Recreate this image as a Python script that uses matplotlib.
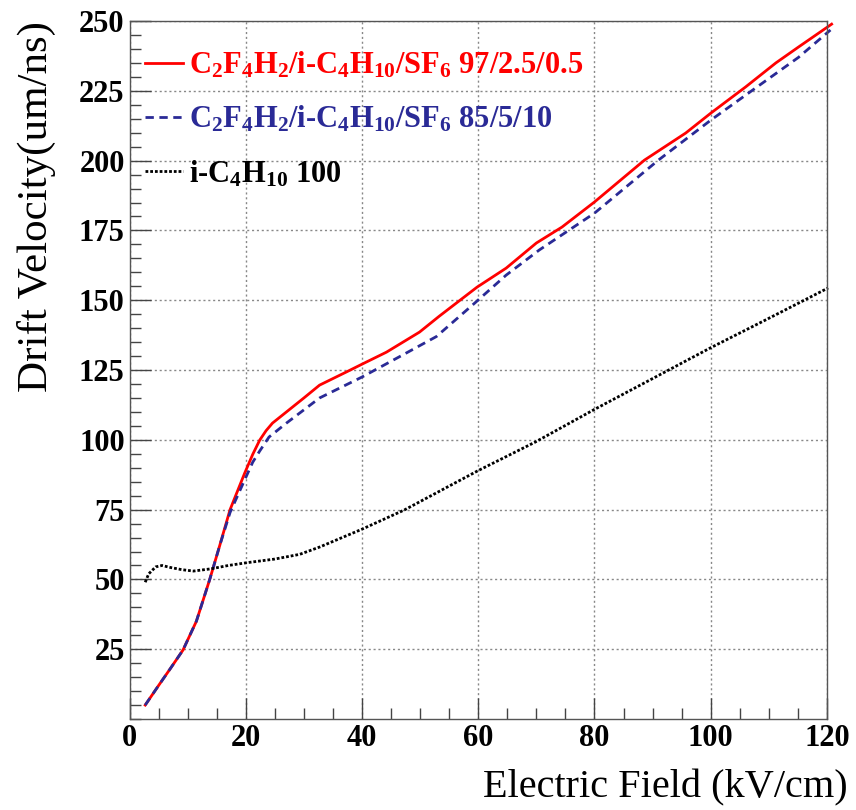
import matplotlib
matplotlib.use("Agg")
import matplotlib.pyplot as plt
import numpy as np
from matplotlib.ticker import MultipleLocator

#### -------- データ -------- ####
# C2F4H2/i-C4H10/SF6 97/2.5/0.5
x_red = [2.7, 5.0, 7.0, 9.2, 11.5, 13.8, 15.5, 17.3, 19.8, 21.2, 22.4, 23.5, 24.6, 27.0,
         30.0, 32.7, 37.3, 40.0, 44.2, 49.9, 53.3, 59.8, 64.8, 70.0, 74.4, 80.0,
         88.6, 95.7, 100.0, 106.0, 111.2, 115.1, 120.8]
y_red = [5.0, 12.0, 18.0, 24.7, 35.0, 50.0, 62.0, 75.0, 88.0, 94.8, 99.9, 103.3, 106.0, 110.0,
         115.0, 119.6, 124.3, 127.1, 131.4, 138.6, 144.3, 154.7, 161.5, 170.5, 176.2, 185.2,
         200.2, 209.9, 217.0, 226.4, 235.0, 240.7, 248.9]

# C2F4H2/i-C4H10/SF6 85/5/10
x_blue = [2.7, 5.0, 7.0, 9.2, 11.5, 13.8, 15.5, 17.3, 19.8, 21.2, 22.4, 24.0, 27.0, 32.7,
          40.0, 47.0, 52.8, 59.4, 64.8, 70.5, 80.0, 91.0, 100.0, 107.7, 115.1, 120.6]
y_blue = [5.0, 12.0, 18.0, 24.7, 35.0, 50.0, 62.0, 74.0, 85.6, 92.0, 96.0, 101.0, 106.0, 115.0,
          122.5, 130.4, 137.0, 149.0, 159.0, 168.0, 181.2, 200.2, 214.5, 226.0, 237.0, 246.8]

# i-C4H10 100
x_black = [2.7, 3.3, 4.5, 5.6, 7.0, 9.0, 11.0, 14.0, 17.0, 20.2, 25.0, 29.3,
           32.7, 40.0, 47.3, 60.0, 69.8, 79.9, 89.5, 100.0, 109.4, 120.2]
y_black = [49.0, 52.0, 54.5, 55.0, 54.3, 53.5, 53.0, 53.8, 55.0, 56.0, 57.3, 59.0,
           61.6, 68.0, 74.9, 89.0, 99.2, 110.8, 121.4, 133.0, 142.9, 154.4]

labels = [
    r"C$_2$F$_4$H$_2$/i-C$_4$H$_{10}$/SF$_6$ 97/2.5/0.5",
    r"C$_2$F$_4$H$_2$/i-C$_4$H$_{10}$/SF$_6$ 85/5/10",
    r"i-C$_4$H$_{10}$ 100",
]

#### -------- グラフ設定 -------- ####
plt.rcParams["font.family"] = "Liberation Serif"
plt.rcParams["mathtext.fontset"] = "custom"
plt.rcParams["mathtext.rm"] = "Liberation Serif:bold"
plt.rcParams["mathtext.default"] = "rm"
plt.rcParams["xtick.direction"] = "in"
plt.rcParams["ytick.direction"] = "in"

fig = plt.figure(figsize=(8.56, 8.10), dpi=100)
ax = fig.add_axes([0.1513, 0.1123, 0.8148, 0.8617])

ax.plot(x_red, y_red, color="#ff0000", lw=2, ls="solid", label=labels[0], clip_on=False)
ax.plot(x_blue, y_blue, color="#2a2a96", lw=2, ls=(0, (3, 2)), label=labels[1], clip_on=False)
ax.plot(x_black, y_black, color="black", lw=2, ls=(0, (1, 0.7)), label=labels[2], clip_on=False)

ax.set_xlim(0, 120)
ax.set_ylim(0, 250)
ax.xaxis.set_major_locator(MultipleLocator(20))
ax.xaxis.set_minor_locator(MultipleLocator(5))
ax.yaxis.set_major_locator(MultipleLocator(25))
ax.yaxis.set_minor_locator(MultipleLocator(5))
ax.tick_params(which="major", length=15, width=1, color="#444444")
ax.tick_params(which="minor", length=8, width=1, color="#444444")
ax.tick_params(labelsize=22)
ax.set_yticks([25, 50, 75, 100, 125, 150, 175, 200, 225, 250])
for lab in ax.get_xticklabels() + ax.get_yticklabels():
    lab.set_fontweight("bold")

ax.grid(True, which="major", color="#888888", ls=(0, (1.5, 2)), lw=1)
for s in ax.spines.values():
    s.set_color("#555555")
    s.set_linewidth(1)

ax.set_xlabel("Electric Field (kV/cm)", fontsize=29, ha="right")
ax.xaxis.set_label_coords(1.03, -0.072)
ax.set_ylabel("Drift Velocity(um/ns)", fontsize=31, ha="right")
ax.yaxis.set_label_coords(-0.106, 1.0)

leg = ax.legend(loc="upper left", bbox_to_anchor=(-0.004, 0.985), frameon=False,
                handlelength=1.25, handletextpad=0.2, labelspacing=0.78,
                borderaxespad=0.2, labelcolor="linecolor",
                prop={"weight": "bold", "size": 22})

fig.savefig("out.png", dpi=100)
